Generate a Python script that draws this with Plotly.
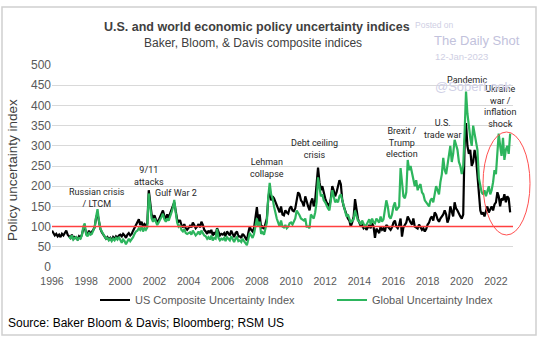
import plotly.graph_objects as go
import pandas as pd

# ---- data (monthly) ----
us_composite = [
    90, 84, 78, 82, 76, 80, 74, 82, 78, 84, 90, 80,          # 1996
    76, 72, 80, 70, 74, 72, 68, 76, 72, 80, 94, 98,          # 1997
    84, 80, 90, 82, 86, 92, 98, 122, 132, 110, 94, 86,       # 1998
    80, 74, 70, 74, 68, 72, 66, 74, 70, 76, 72, 78,          # 1999
    80, 76, 82, 78, 72, 80, 84, 78, 82, 90, 98, 104,         # 2000
    112, 118, 104, 112, 100, 106, 102, 108, 190, 158, 130, 120,  # 2001
    128, 118, 110, 116, 124, 132, 140, 126, 120, 130, 122, 132,  # 2002
    140, 152, 160, 140, 118, 112, 116, 104, 98, 106, 96, 92,     # 2003
    96, 102, 98, 110, 104, 96, 100, 106, 98, 112, 104, 92,       # 2004
    88, 82, 90, 84, 92, 78, 86, 80, 96, 84, 78, 82,              # 2005
    80, 84, 76, 88, 82, 78, 90, 80, 74, 84, 88, 76,              # 2006
    76, 72, 82, 78, 70, 66, 84, 100, 92, 88, 96, 118,            # 2007
    148, 112, 130, 96, 100, 94, 104, 120, 170, 192, 165, 175,    # 2008
    170, 160, 150, 140, 135, 150, 130, 128, 140, 135, 132, 145,  # 2009
    150, 140, 138, 145, 170, 185, 180, 165, 160, 150, 175, 160,  # 2010
    150, 140, 160, 170, 150, 165, 200, 246, 210, 190, 200, 180,  # 2011
    170, 160, 155, 150, 170, 200, 190, 175, 185, 200, 215, 205,  # 2012
    165, 150, 140, 130, 120, 115, 100, 110, 125, 168, 140, 120,  # 2013
    110, 100, 104, 96, 100, 92, 98, 104, 96, 108, 100, 72,       # 2014
    95, 90, 84, 100, 92, 96, 88, 104, 100, 96, 92, 98,           # 2015
    110, 115, 100, 96, 104, 120, 75, 98, 105, 110, 125, 115,     # 2016
    110, 105, 120, 100, 98, 95, 105, 100, 92, 96, 88, 94,        # 2017
    105, 110, 120, 125, 115, 135, 130, 118, 112, 120, 125, 130,  # 2018
    140, 130, 110, 120, 150, 135, 125, 160, 145, 140, 130, 125,  # 2019
    120, 130, 300, 356, 300, 280, 290, 250, 260, 290, 270, 230,  # 2020
    170, 140, 130, 135, 125, 140, 150, 135, 145, 150, 140, 155,  # 2021
    160, 185, 175, 150, 170, 165, 180, 160, 175, 170, 135,       # 2022
]
global_index = [
    75, 70, 78, 68, 72, 74, 66, 72, 70, 78, 100, 108,            # 1997
    80, 76, 86, 80, 82, 90, 98, 124, 143, 115, 95, 88,           # 1998
    82, 75, 70, 72, 66, 70, 64, 70, 66, 72, 68, 74,              # 1999
    66, 60, 68, 64, 56, 62, 70, 64, 68, 74, 82, 88,              # 2000
    90, 96, 92, 100, 88, 96, 92, 98, 182, 150, 120, 112,         # 2001
    120, 112, 104, 110, 116, 124, 132, 118, 112, 120, 115, 124,  # 2002
    135, 148, 166, 135, 110, 100, 104, 92, 88, 94, 84, 82,       # 2003
    84, 86, 80, 90, 84, 78, 82, 88, 80, 90, 84, 78,              # 2004
    76, 70, 74, 68, 78, 66, 72, 70, 94, 72, 66, 70,              # 2005
    68, 72, 64, 74, 70, 66, 76, 68, 62, 70, 74, 64,              # 2006
    66, 62, 70, 64, 58, 54, 68, 84, 78, 72, 82, 100,             # 2007
    120, 100, 112, 82, 86, 80, 92, 110, 175, 208, 180, 170,      # 2008
    150, 130, 120, 110, 100, 115, 100, 98, 104, 96, 100, 108,    # 2009
    110, 105, 112, 120, 140, 135, 128, 120, 118, 115, 120, 100,  # 2010
    100, 96, 130, 125, 120, 135, 160, 222, 190, 175, 180, 165,   # 2011
    160, 150, 145, 140, 170, 190, 175, 160, 165, 160, 175, 180,  # 2012
    165, 150, 140, 125, 130, 120, 110, 115, 118, 140, 125, 115,  # 2013
    112, 105, 115, 108, 100, 104, 110, 118, 105, 120, 110, 108,  # 2014
    120, 115, 110, 125, 112, 118, 140, 165, 150, 125, 120, 130,  # 2015
    150, 160, 140, 145, 150, 245, 200, 175, 170, 185, 265, 240,  # 2016
    250, 230, 210, 200, 215, 190, 200, 205, 185, 180, 165, 160,  # 2017
    155, 150, 165, 170, 160, 185, 200, 190, 180, 210, 230, 270,  # 2018
    240, 230, 250, 270, 300, 260, 280, 315, 300, 290, 260, 250,  # 2019
    230, 250, 330, 434, 380, 340, 320, 300, 350, 330, 310, 290,  # 2020
    220, 200, 185, 180, 190, 175, 185, 200, 180, 190, 210, 240,  # 2021
    230, 280, 330, 300, 275, 320, 265, 290, 300, 280, 330,       # 2022
]
us_start = "1996-01-01"
global_start = "1997-01-01"

events = ["Russian crisis<br>/ LTCM", "9/11<br>attacks", "Gulf War 2", "Lehman<br>collapse",
          "Debt ceiling<br>crisis", "Brexit /<br>Trump<br>election", "U.S.<br>trade war",
          "Pandemic", "Ukraine<br>war /<br>inflation<br>shock"]
event_dates = ["1998-08-10", "2001-08-28", "2003-04-01", "2008-07-30", "2011-05-25",
               "2016-07-01", "2018-11-25", "2020-04-20", "2022-04-01"]
event_levels = [171, 226, 183, 244, 291, 307, 342, 463, 398]

baseline = 100
y_ticks = list(range(0, 501, 50))

us_dates = pd.date_range(us_start, periods=len(us_composite), freq="MS")
gl_dates = pd.date_range(global_start, periods=len(global_index), freq="MS")

W, H = 540, 343
L, R, T, B = 52, 27, 65, 76
pw, ph = W - L - R, H - T - B

def px(x):
    return (x - L) / pw

def py(y):
    return (H - B - y) / ph

FONT = "Liberation Sans, Arial"

fig = go.Figure()
fig.add_trace(go.Scatter(x=us_dates, y=us_composite, mode="lines",
                         name="US Composite Uncertainty Index", legend="legend",
                         line=dict(color="#000000", width=2.2)))
fig.add_trace(go.Scatter(x=gl_dates, y=global_index, mode="lines",
                         name="Global Uncertainty Index", legend="legend2",
                         line=dict(color="#2db55d", width=2.2)))

annotations = []
for t, d, v in zip(events, event_dates, event_levels):
    annotations.append(dict(x=d, y=v, xref="x", yref="y", text=t, showarrow=False,
                            font=dict(family="Liberation Sans Narrow, Arial Narrow, Roboto", size=9,
                                      color="#262626"),
                            align="center", xanchor="center", yanchor="middle"))

annotations += [
    dict(x=px(257), y=py(27), xref="paper", yref="paper", showarrow=False,
         text="<b>U.S. and world economic policy uncertainty indices</b>",
         font=dict(family=FONT, size=12.5, color="#404040"),
         xanchor="center", yanchor="middle"),
    dict(x=px(253), y=py(43), xref="paper", yref="paper", showarrow=False,
         text="Baker, Bloom, & Davis composite indices",
         font=dict(family=FONT, size=12, color="#404040"),
         xanchor="center", yanchor="middle"),
    dict(x=px(12), y=py(170), xref="paper", yref="paper", showarrow=False,
         text="Policy uncertainty index", textangle=-90,
         font=dict(family=FONT, size=13.5, color="#404040"),
         xanchor="center", yanchor="middle"),
    dict(x=px(6), y=py(323), xref="paper", yref="paper", showarrow=False,
         text="Source: Baker Bloom & Davis; Bloomberg; RSM US",
         font=dict(family=FONT, size=12, color="#000000"),
         xanchor="left", yanchor="middle"),
    # watermark
    dict(x=px(413), y=py(25), xref="paper", yref="paper", showarrow=False,
         text="Posted on", font=dict(family=FONT, size=8.5, color="#cfcfe4"),
         xanchor="left", yanchor="middle"),
    dict(x=px(432), y=py(41), xref="paper", yref="paper", showarrow=False,
         text="The Daily Shot", font=dict(family=FONT, size=13, color="#c2c2dc"),
         xanchor="left", yanchor="middle"),
    dict(x=px(433), y=py(57), xref="paper", yref="paper", showarrow=False,
         text="12-Jan-2023", font=dict(family=FONT, size=9.5, color="#cfcfe4"),
         xanchor="left", yanchor="middle"),
    dict(x=px(433), y=py(86), xref="paper", yref="paper", showarrow=False,
         text="@SoberLook", font=dict(family=FONT, size=13, color="#d0d0e6"),
         xanchor="left", yanchor="middle"),
]

shapes = [
    dict(type="rect", xref="paper", yref="paper", x0=px(2), x1=px(536), y0=py(335), y1=py(7),
         line=dict(color="#d0d0d0", width=1.5), fillcolor="rgba(0,0,0,0)", layer="below"),
    dict(type="line", xref="paper", yref="y", x0=0, x1=1, y0=baseline, y1=baseline,
         line=dict(color="#ff4040", width=1.5), layer="above"),
    dict(type="circle", xref="paper", yref="paper", x0=px(483), x1=px(530), y0=py(235), y1=py(132),
         line=dict(color="#ff5050", width=1), fillcolor="rgba(0,0,0,0)"),
]

leg_common = dict(orientation="h", yanchor="middle", xanchor="left",
                  font=dict(family=FONT, size=11, color="#595959"),
                  bgcolor="rgba(0,0,0,0)", borderwidth=0)

fig.update_layout(
    width=W, height=H,
    margin=dict(l=L, r=R, t=T, b=B, autoexpand=False),
    paper_bgcolor="white", plot_bgcolor="white",
    showlegend=True,
    legend=dict(x=px(95), y=py(300), **leg_common),
    legend2=dict(x=px(332), y=py(300), **leg_common),
    annotations=annotations,
    shapes=shapes,
    xaxis=dict(type="date", range=["1996-01-01", "2023-01-01"], tick0="1996-01-01", dtick="M24",
               tickformat="%Y", showgrid=False, zeroline=False, showline=False, ticks="",
               ticklabelstandoff=6,
               tickfont=dict(family=FONT, size=10.5, color="#595959")),
    yaxis=dict(range=[0, 500], tickvals=y_ticks, showgrid=True, gridcolor="#d9d9d9", gridwidth=1,
               zeroline=False, showline=False, ticks="",
               tickfont=dict(family=FONT, size=12, color="#595959")),
)

fig.write_html("out.html")
